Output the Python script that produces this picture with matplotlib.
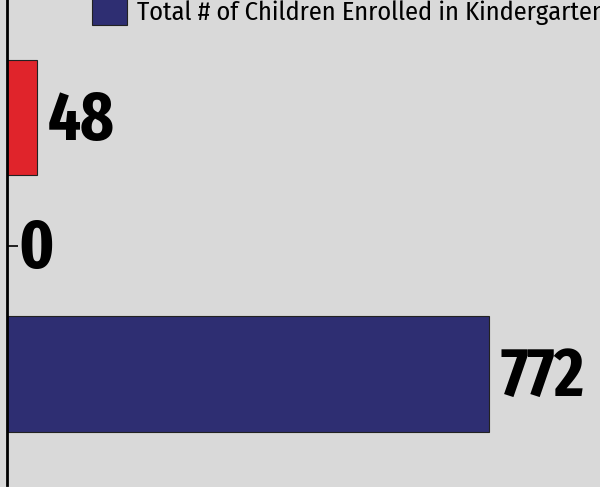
import matplotlib.pyplot as plt

categories = ["Enrolled", "Zero", "Other"]
values = [772, 0, 48]
colors = ["#2e2e72", "#2e2e72", "#e0242b"]
legend_label = "Total # of Children Enrolled in Kindergarten"

num_font = ["Fira Sans Extra Condensed", "Fira Sans Condensed", "DejaVu Sans"]
leg_font = ["Fira Sans Condensed", "Open Sans Condensed", "DejaVu Sans"]

bg = "#d9d9d9"
fig = plt.figure(figsize=(6, 4.87), dpi=100, facecolor=bg)
ax = fig.add_axes([7 / 600, 2 / 487, 593 / 600, 485 / 487], facecolor=bg)

ypos = list(range(len(values)))
bars = ax.barh(ypos, values, height=0.9, color=colors, edgecolor="#222222", linewidth=0.8)

for y, v in zip(ypos, values):
    ax.annotate(str(v), (v, y), xytext=(8, -2.5), textcoords="offset points",
                va="center", ha="left", fontsize=50, fontweight="bold", family=num_font)

ax.set_xlim(0, 950)
ax.set_ylim(-0.867, 2.92)
ax.set_yticks([1])
ax.set_yticklabels([])
ax.tick_params(axis="y", direction="in", length=8, width=1.2)
ax.set_xticks([])
for s in ["top", "right", "bottom"]:
    ax.spines[s].set_visible(False)
ax.spines["left"].set_linewidth(2)

leg = ax.legend([bars[0]], [legend_label], loc="upper left", bbox_to_anchor=(0.126, 1.027),
                frameon=False, prop={"family": leg_font, "size": 19},
                handlelength=1.3, handleheight=1.2, handletextpad=0.4, borderaxespad=0)

fig.savefig("out.png", dpi=100, facecolor=bg)
